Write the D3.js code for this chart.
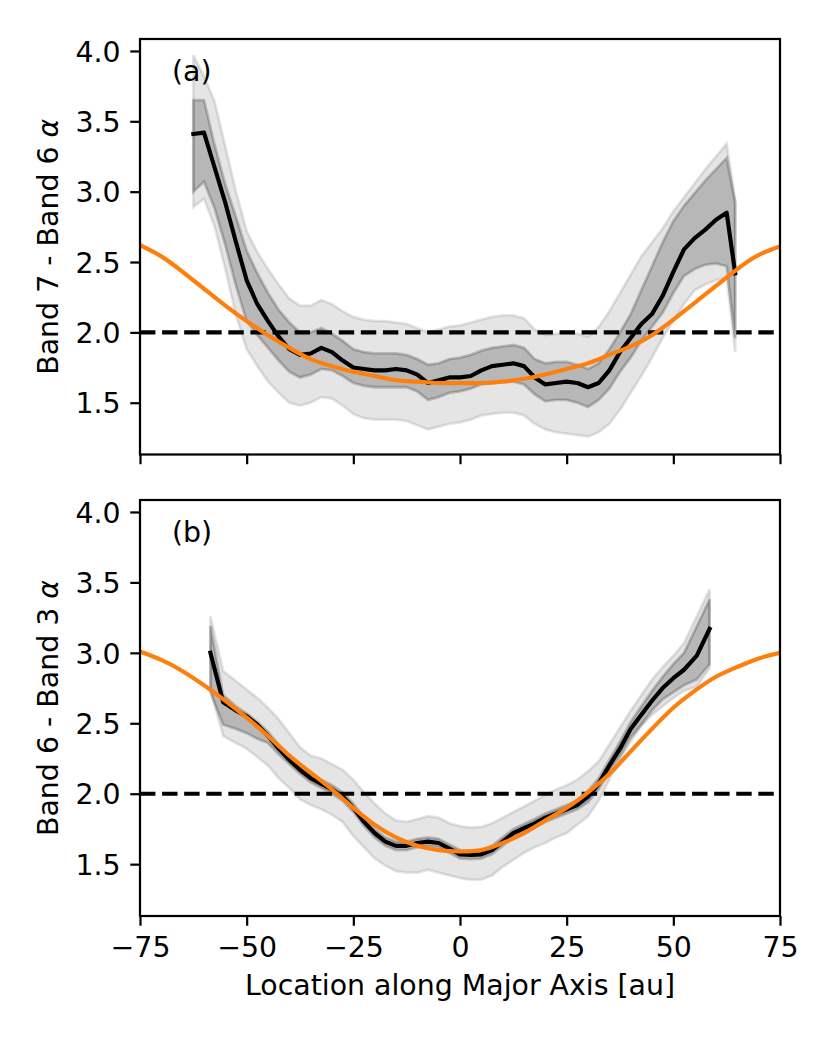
<!DOCTYPE html>
<html>
<head>
<meta charset="utf-8">
<script src="https://cdn.jsdelivr.net/npm/d3@7"></script>
<style>
  body { margin: 0; background: #fff; }
  svg text { font-family: 'DejaVu Sans', sans-serif; fill: #000; }
</style>
</head>
<body>
<div id="chart"></div>
<script>
// panel (a): Band 7 - Band 6
const xA = [-62.5, -60, -57.5, -55, -52.5, -50, -47.5, -45, -42.5, -40, -37.5, -35, -32.5, -30, -27.5, -25, -22.5, -20, -17.5, -15, -12.5, -10, -7.5, -5, -2.5, 0, 2.5, 5, 7.5, 10, 12.5, 15, 17.5, 20, 22.5, 25, 27.5, 30, 32.5, 35, 37.5, 40, 42.5, 45, 47.5, 50, 52.5, 55, 57.5, 60, 62.5, 64.5];
const meanA = [3.41, 3.42, 3.17, 2.92, 2.64, 2.37, 2.20, 2.08, 1.97, 1.88, 1.84, 1.85, 1.89, 1.86, 1.80, 1.75, 1.74, 1.73, 1.73, 1.74, 1.73, 1.70, 1.64, 1.66, 1.68, 1.68, 1.69, 1.73, 1.76, 1.77, 1.78, 1.76, 1.68, 1.63, 1.64, 1.65, 1.64, 1.61, 1.64, 1.73, 1.86, 1.96, 2.06, 2.13, 2.26, 2.43, 2.59, 2.67, 2.73, 2.80, 2.85, 2.42];
const hi1A = [3.65, 3.65, 3.33, 3.05, 2.82, 2.58, 2.42, 2.28, 2.16, 2.07, 2.00, 2.00, 2.03, 1.99, 1.94, 1.88, 1.86, 1.85, 1.85, 1.85, 1.84, 1.81, 1.77, 1.78, 1.81, 1.82, 1.84, 1.87, 1.89, 1.90, 1.91, 1.89, 1.81, 1.78, 1.79, 1.79, 1.77, 1.74, 1.78, 1.88, 2.00, 2.13, 2.30, 2.47, 2.64, 2.79, 2.90, 2.99, 3.08, 3.16, 3.24, 2.92];
const lo1A = [3.00, 3.07, 2.88, 2.62, 2.33, 2.08, 1.98, 1.89, 1.80, 1.72, 1.68, 1.70, 1.74, 1.73, 1.69, 1.64, 1.62, 1.61, 1.61, 1.61, 1.61, 1.58, 1.52, 1.54, 1.57, 1.58, 1.60, 1.63, 1.64, 1.65, 1.65, 1.63, 1.56, 1.51, 1.52, 1.52, 1.50, 1.47, 1.52, 1.60, 1.72, 1.82, 1.94, 2.04, 2.14, 2.28, 2.40, 2.45, 2.48, 2.49, 2.47, 1.96];
const hi2A = [3.97, 3.82, 3.64, 3.32, 3.00, 2.72, 2.57, 2.45, 2.34, 2.24, 2.19, 2.19, 2.23, 2.20, 2.15, 2.11, 2.09, 2.08, 2.08, 2.07, 2.06, 2.03, 2.00, 2.02, 2.04, 2.05, 2.07, 2.09, 2.11, 2.12, 2.12, 2.10, 2.02, 1.98, 1.99, 2.00, 1.99, 1.97, 2.04, 2.15, 2.28, 2.41, 2.54, 2.64, 2.74, 2.86, 2.96, 3.06, 3.16, 3.25, 3.34, 2.94];
const lo2A = [2.89, 2.95, 2.75, 2.45, 2.12, 1.88, 1.76, 1.65, 1.57, 1.50, 1.48, 1.50, 1.54, 1.53, 1.48, 1.42, 1.39, 1.38, 1.38, 1.38, 1.37, 1.34, 1.31, 1.33, 1.35, 1.36, 1.38, 1.41, 1.42, 1.43, 1.43, 1.41, 1.35, 1.31, 1.29, 1.28, 1.27, 1.26, 1.29, 1.35, 1.45, 1.57, 1.69, 1.82, 1.96, 2.08, 2.20, 2.30, 2.34, 2.37, 2.39, 1.86];

// panel (b): Band 6 - Band 3
const xB = [-58.5, -55.5, -52.5, -50, -47.5, -45, -42.5, -40, -37.5, -35, -32.5, -30, -27.5, -25, -22.5, -20, -17.5, -15, -12.5, -10, -7.5, -5, -2.5, 0, 2.5, 5, 7.5, 10, 12.5, 15, 17.5, 20, 22.5, 25, 27.5, 30, 32.5, 35, 37.5, 40, 42.5, 45, 47.5, 50, 52.5, 55.5, 58.5];
const meanB = [3.00, 2.65, 2.59, 2.55, 2.49, 2.41, 2.32, 2.24, 2.17, 2.11, 2.07, 2.03, 1.98, 1.90, 1.80, 1.72, 1.66, 1.63, 1.63, 1.65, 1.66, 1.65, 1.61, 1.57, 1.565, 1.57, 1.60, 1.66, 1.72, 1.755, 1.79, 1.83, 1.86, 1.89, 1.92, 1.98, 2.07, 2.20, 2.32, 2.46, 2.56, 2.66, 2.75, 2.82, 2.88, 2.98, 3.17];
const hi1B = [3.19, 2.70, 2.62, 2.57, 2.51, 2.44, 2.35, 2.27, 2.20, 2.14, 2.10, 2.06, 2.01, 1.93, 1.83, 1.75, 1.69, 1.66, 1.66, 1.68, 1.69, 1.68, 1.64, 1.60, 1.595, 1.60, 1.63, 1.69, 1.75, 1.785, 1.82, 1.86, 1.89, 1.92, 1.95, 2.02, 2.11, 2.24, 2.37, 2.51, 2.62, 2.73, 2.83, 2.92, 3.00, 3.19, 3.38];
const lo1B = [2.72, 2.49, 2.46, 2.43, 2.39, 2.36, 2.28, 2.21, 2.14, 2.08, 2.04, 2.00, 1.95, 1.87, 1.77, 1.69, 1.63, 1.60, 1.60, 1.62, 1.63, 1.62, 1.58, 1.54, 1.535, 1.54, 1.57, 1.63, 1.69, 1.725, 1.76, 1.80, 1.83, 1.86, 1.89, 1.94, 2.03, 2.16, 2.27, 2.40, 2.49, 2.59, 2.67, 2.72, 2.77, 2.81, 2.92];
const hi2B = [3.26, 2.87, 2.80, 2.74, 2.68, 2.61, 2.53, 2.43, 2.33, 2.27, 2.25, 2.21, 2.17, 2.10, 2.01, 1.93, 1.86, 1.81, 1.80, 1.82, 1.84, 1.83, 1.79, 1.77, 1.76, 1.765, 1.79, 1.83, 1.87, 1.91, 1.95, 1.99, 2.03, 2.06, 2.10, 2.16, 2.23, 2.35, 2.47, 2.59, 2.70, 2.81, 2.90, 2.98, 3.07, 3.26, 3.45];
const lo2B = [2.74, 2.41, 2.36, 2.32, 2.26, 2.20, 2.11, 2.04, 1.96, 1.92, 1.89, 1.85, 1.80, 1.70, 1.62, 1.54, 1.49, 1.45, 1.44, 1.44, 1.46, 1.44, 1.42, 1.40, 1.39, 1.39, 1.42, 1.48, 1.53, 1.58, 1.62, 1.65, 1.69, 1.72, 1.78, 1.84, 1.95, 2.10, 2.24, 2.37, 2.48, 2.56, 2.62, 2.68, 2.73, 2.76, 2.89];

// orange model curves
const xModel = [-75, -70, -65, -60, -55, -50, -45, -40, -35, -30, -25, -20, -15, -10, -5, 0, 5, 10, 15, 20, 25, 30, 35, 40, 45, 50, 55, 60, 65, 70, 75];
const modelA = [2.62, 2.54, 2.43, 2.31, 2.19, 2.08, 1.98, 1.89, 1.81, 1.76, 1.72, 1.69, 1.66, 1.65, 1.64, 1.64, 1.64, 1.65, 1.67, 1.70, 1.74, 1.78, 1.84, 1.90, 1.98, 2.09, 2.21, 2.33, 2.45, 2.55, 2.61];
const modelB = [3.01, 2.95, 2.87, 2.77, 2.66, 2.54, 2.41, 2.27, 2.15, 2.03, 1.90, 1.78, 1.69, 1.63, 1.60, 1.59, 1.60, 1.65, 1.72, 1.81, 1.90, 2.01, 2.14, 2.30, 2.46, 2.61, 2.73, 2.83, 2.90, 2.96, 3.00];

const xTicks = [-75, -50, -25, 0, 25, 50, 75];
const yTicks = [1.5, 2.0, 2.5, 3.0, 3.5, 4.0];
const refLevel = 2.0;

const W = 830, H = 1038;
const FS = 28.4;
const pt = 200 / 72;
const space = { left: 140, right: 780 };

const svg = d3.select('#chart')
  .append('svg')
  .attr('width', W)
  .attr('height', H);

const x = d3.scaleLinear().domain([-75, 75]).range([space.left, space.right]);

const panels = [
  { id: 'a', top: 39, bottom: 454.5, xs: xA, mean: meanA, hi1: hi1A, lo1: lo1A, hi2: hi2A, lo2: lo2A, model: modelA, tag: '(a)', ylabel: 'Band 7 - Band 6 ', xlabels: false },
  { id: 'b', top: 500, bottom: 916, xs: xB, mean: meanB, hi1: hi1B, lo1: lo1B, hi2: hi2B, lo2: lo2B, model: modelB, tag: '(b)', ylabel: 'Band 6 - Band 3 ', xlabels: true }
];

panels.forEach(drawPanel);

svg.append('text')
  .attr('x', (space.left + space.right) / 2)
  .attr('y', 995)
  .attr('text-anchor', 'middle')
  .style('font-size', FS + 'px')
  .text('Location along Major Axis [au]');

function drawPanel(p) {
  const y = d3.scaleLinear().domain([1.132, 4.085]).range([p.bottom, p.top]);
  const idx = d3.range(p.xs.length);

  svg.append('clipPath')
    .attr('id', 'clip-' + p.id)
    .append('rect')
    .attr('x', space.left)
    .attr('y', p.top)
    .attr('width', space.right - space.left)
    .attr('height', p.bottom - p.top);

  const g = svg.append('g').attr('clip-path', `url(#clip-${p.id})`);

  const band = (lo, hi) => d3.area()
    .x(i => x(p.xs[i]))
    .y0(i => y(lo[i]))
    .y1(i => y(hi[i]));

  // 2 sigma then 1 sigma
  g.append('path')
    .datum(idx)
    .attr('d', band(p.lo2, p.hi2))
    .attr('fill', '#000').attr('fill-opacity', 0.1)
    .attr('stroke', '#000').attr('stroke-opacity', 0.1)
    .attr('stroke-width', pt);
  g.append('path')
    .datum(idx)
    .attr('d', band(p.lo1, p.hi1))
    .attr('fill', '#000').attr('fill-opacity', 0.2)
    .attr('stroke', '#000').attr('stroke-opacity', 0.2)
    .attr('stroke-width', pt);

  g.append('line')
    .attr('x1', space.left).attr('x2', space.right)
    .attr('y1', y(refLevel)).attr('y2', y(refLevel))
    .attr('stroke', '#000')
    .attr('stroke-width', 1.5 * pt)
    .attr('stroke-dasharray', `${3.7 * 1.5 * pt} ${1.6 * 1.5 * pt}`);

  g.append('path')
    .datum(idx)
    .attr('d', d3.line().x(i => x(p.xs[i])).y(i => y(p.mean[i])))
    .attr('fill', 'none')
    .attr('stroke', '#000')
    .attr('stroke-width', 1.5 * pt)
    .attr('stroke-linejoin', 'round')
    .attr('stroke-linecap', 'square');

  g.append('path')
    .datum(d3.range(xModel.length))
    .attr('d', d3.line().curve(d3.curveNatural).x(i => x(xModel[i])).y(i => y(p.model[i])))
    .attr('fill', 'none')
    .attr('stroke', '#ff7f0e')
    .attr('stroke-width', 1.5 * pt);

  // axes
  const yAxis = d3.axisLeft(y)
    .tickValues(yTicks)
    .tickSize(3.5 * pt)
    .tickPadding(3.5 * pt)
    .tickFormat(d3.format('.1f'));
  const xAxis = d3.axisBottom(x)
    .tickValues(xTicks)
    .tickSize(3.5 * pt)
    .tickPadding(3.5 * pt)
    .tickFormat(p.xlabels ? d3.format('d') : () => '');

  const ya = svg.append('g')
    .attr('transform', `translate(${space.left},0)`)
    .call(yAxis);
  const xa = svg.append('g')
    .attr('transform', `translate(0,${p.bottom})`)
    .call(xAxis);

  [ya, xa].forEach(a => {
    a.select('.domain').remove();
    a.selectAll('.tick line').attr('stroke', '#000').attr('stroke-width', 0.8 * pt);
    a.selectAll('.tick text')
      .style('font-size', FS + 'px')
      .style('font-family', "'DejaVu Sans', sans-serif")
      .attr('fill', '#000');
  });
  ya.selectAll('.tick text').attr('dy', '0.36em');
  xa.selectAll('.tick text').attr('dy', '0.76em');

  svg.append('rect')
    .attr('x', space.left)
    .attr('y', p.top)
    .attr('width', space.right - space.left)
    .attr('height', p.bottom - p.top)
    .attr('fill', 'none')
    .attr('stroke', '#000')
    .attr('stroke-width', 0.8 * pt);

  svg.append('text')
    .attr('x', space.left + 0.05 * (space.right - space.left))
    .attr('y', p.top + 0.1 * (p.bottom - p.top))
    .style('font-size', FS + 'px')
    .text(p.tag);

  const cy = (p.top + p.bottom) / 2;
  const yl = svg.append('text')
    .attr('transform', `translate(58,${cy}) rotate(-90)`)
    .attr('text-anchor', 'middle')
    .style('font-size', FS + 'px');
  yl.append('tspan').text(p.ylabel);
  yl.append('tspan').style('font-style', 'italic').text('α');
}
</script>
</body>
</html>
